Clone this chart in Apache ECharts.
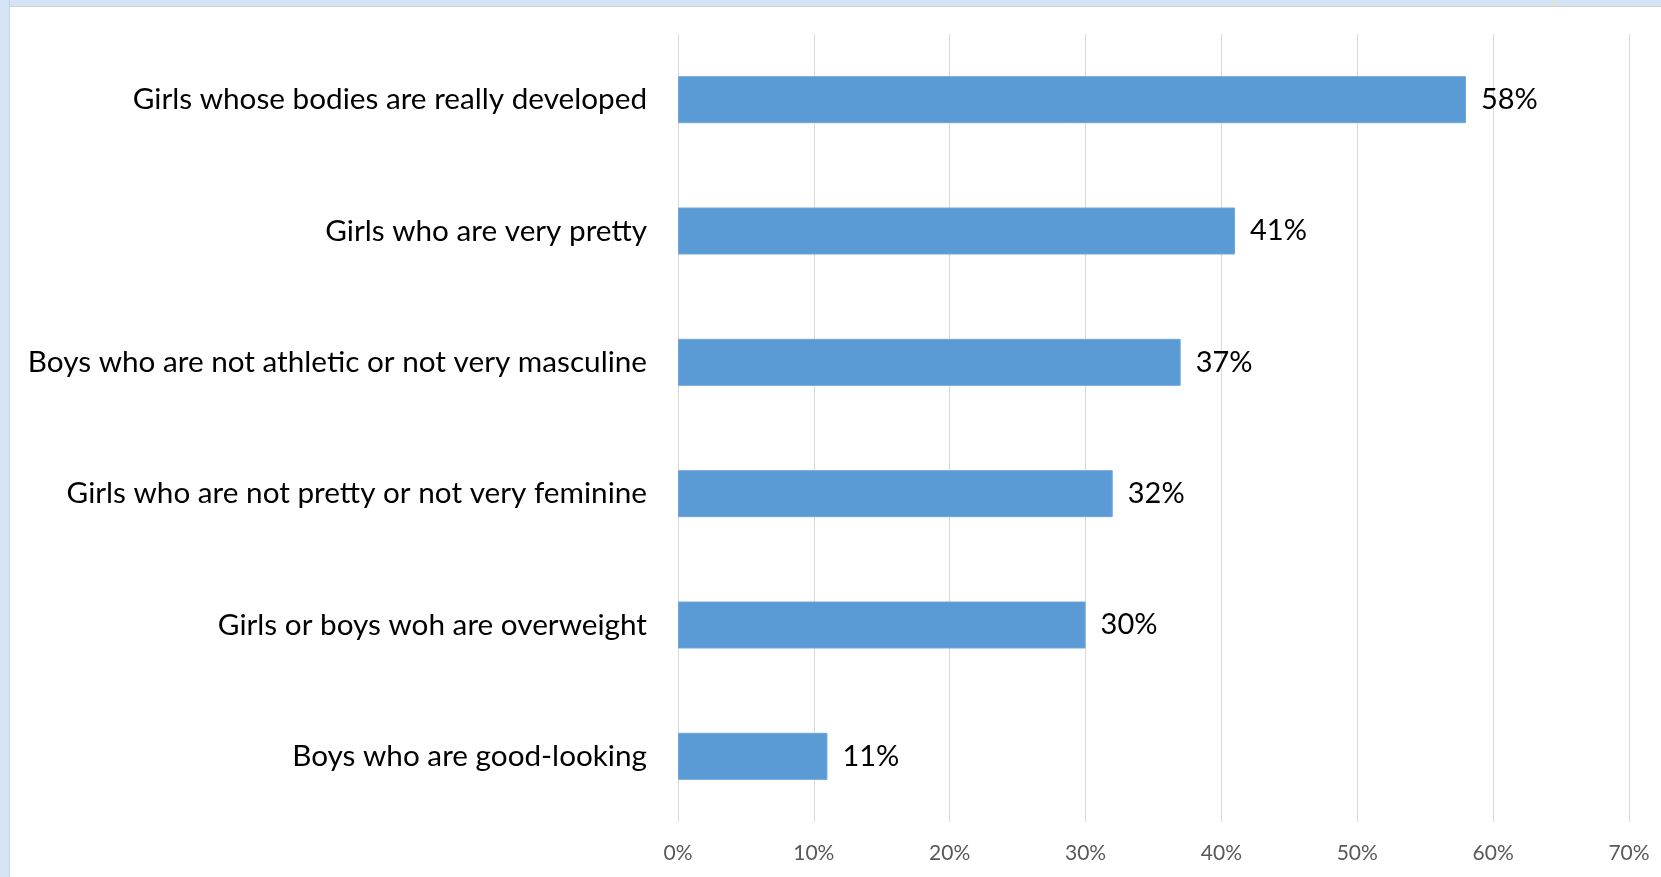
<!DOCTYPE html>
<html>
<head>
<meta charset="utf-8">
<script src="https://cdn.jsdelivr.net/npm/echarts@6/dist/echarts.min.js"></script>
<style>
  html, body { margin: 0; padding: 0; background: #fff; }
  .band-top { position: absolute; left: 0; top: 0; width: 1661px; height: 6px; background: #d5e4f5; border-bottom: 1px solid #c9d3de; }
  .band-left { position: absolute; left: 0; top: 0; width: 9px; height: 877px; background: #d5e4f5; border-right: 1px solid #c9d3de; }
  .tick-mark { position: absolute; left: 1553px; top: 0; width: 1px; height: 6px; background: #eee8a0; }
  #chart { position: absolute; left: 0; top: 0; width: 1661px; height: 877px; }
</style>
</head>
<body>
<div class="band-top"></div>
<div class="band-left"></div>
<div class="tick-mark"></div>
<div id="chart"></div>
<script>
// 数据（从上到下）
const categories = [
  "Girls whose bodies are really developed",
  "Girls who are very pretty",
  "Boys who are not athletic or not very masculine",
  "Girls who are not pretty or not very feminine",
  "Girls or boys woh are overweight",
  "Boys who are good-looking",
];
const values = [58, 41, 37, 32, 30, 11];
const axisTicks = [0, 10, 20, 30, 40, 50, 60, 70];

const chart = echarts.init(document.getElementById("chart"));

const option = {
  animation: false,
  grid: {
    left: 678,
    right: 32,
    top: 34,
    bottom: 55,
  },
  xAxis: {
    type: "value",
    min: axisTicks[0],
    max: axisTicks[axisTicks.length - 1],
    interval: 10,
    axisLine: { show: false },
    axisTick: { show: false },
    axisLabel: {
      formatter: "{value}%",
      color: "#595959",
      fontFamily: "Lato",
      fontSize: 21,
      margin: 21,
    },
    splitLine: {
      show: true,
      lineStyle: { color: "#d9d9d9", width: 1 },
    },
  },
  yAxis: {
    type: "category",
    inverse: true,
    data: categories,
    axisLine: { show: false },
    axisTick: { show: false },
    axisLabel: {
      color: "#000",
      fontFamily: "Lato",
      fontSize: 29.7,
      margin: 31,
    },
  },
  series: [
    {
      type: "bar",
      data: values,
      barWidth: 47,
      itemStyle: {
        color: "#5b9bd5",
        borderColor: "#6ea7db",
        borderWidth: 1,
      },
      label: {
        show: true,
        position: "right",
        distance: 15,
        formatter: "{c}%",
        color: "#000",
        fontFamily: "Lato",
        fontSize: 29,
      },
    },
  ],
};

chart.setOption(option);
</script>
</body>
</html>
